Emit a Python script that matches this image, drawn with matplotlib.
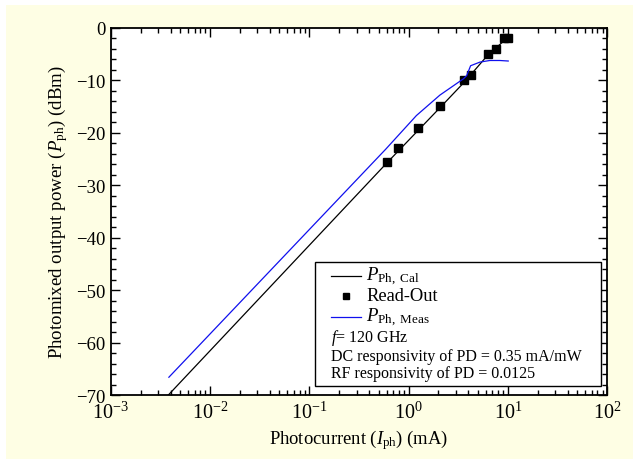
import matplotlib

matplotlib.use("Agg")
import matplotlib.pyplot as plt
from matplotlib.patches import Rectangle
from matplotlib.lines import Line2D
from matplotlib.ticker import LogLocator, MultipleLocator

plt.rcParams["font.family"] = ["Liberation Serif", "DejaVu Serif"]
plt.rcParams["mathtext.fontset"] = "custom"
plt.rcParams["mathtext.rm"] = "Liberation Serif"
plt.rcParams["mathtext.it"] = "Liberation Serif:italic"

# calculated output power (black line)
cal_current = [0.0038, 0.6, 2.05, 3.7, 6.2, 10.0]
cal_power = [-70.0, -25.8, -15.3, -10.2, -5.3, -1.8]

# read-out points (squares)
read_current = [0.6, 0.79, 1.25, 2.07, 3.65, 4.23, 6.27, 7.55, 9.17, 10.1]
read_power = [-25.5, -22.9, -19.0, -14.9, -9.9, -9.0, -5.0, -4.0, -2.0, -2.0]

# measured output power (blue line)
meas_current = [0.00385, 0.59, 1.2, 2.07, 3.57, 3.85, 4.22, 5.25, 6.6, 8.3, 10.1]
meas_power = [-66.6, -23.1, -16.7, -12.8, -9.7, -9.1, -7.2, -6.5, -6.2, -6.2, -6.3]

legend_notes = [
    r"$f$= 120 GHz",
    "DC responsivity of PD = 0.35 mA/mW",
    "RF responsivity of PD = 0.0125",
]

fig = plt.figure(figsize=(6.33, 4.6), dpi=100)
fig.patch.set_facecolor("white")
fig.add_artist(Rectangle((6 / 633, 0), 1, 1 - 6 / 460, transform=fig.transFigure,
                         facecolor="#fefee4", edgecolor="none", zorder=-1))
ax = fig.add_axes([0.175, 0.139, 0.784, 0.798])

ax.plot(cal_current, cal_power, color="black", lw=0.9)
ax.plot(read_current, read_power, ls="none", marker="s", ms=5.5, color="black")
ax.plot(meas_current, meas_power, color="#1010ee", lw=0.9)

ax.set_xscale("log")
ax.set_xlim(1e-3, 1e2)
ax.set_ylim(-70, 0)
ax.yaxis.set_major_locator(MultipleLocator(10))
ax.yaxis.set_minor_locator(MultipleLocator(2))
ax.xaxis.set_major_locator(LogLocator(base=10, numticks=10))
ax.xaxis.set_minor_locator(LogLocator(base=10, subs=range(2, 10), numticks=20))
ax.tick_params(which="both", direction="in", top=True, right=True, width=1)
ax.tick_params(which="major", length=6.5)
ax.tick_params(which="minor", length=3.5)
ax.tick_params(axis="x", labelsize=14.5, pad=5)
ax.tick_params(axis="y", labelsize=13.5, pad=4)
for s in ax.spines.values():
    s.set_linewidth(1.3)

ax.set_xlabel(r"Photocurrent ($I_{\mathrm{ph}}$) (mA)", fontsize=13.4, labelpad=3)
ax.set_ylabel(r"Photomixed output power ($P_{\mathrm{ph}}$) (dBm)", fontsize=13.6, labelpad=4)

# legend box drawn by hand so the note lines sit inside it
ax.add_patch(Rectangle((0.411, 0.025), 0.577, 0.337, transform=ax.transAxes,
                       facecolor="white", edgecolor="black", lw=1.0, zorder=5))
ax.add_line(Line2D([0.444, 0.504], [0.325, 0.325], transform=ax.transAxes,
                   color="black", lw=0.9, zorder=6))
ax.add_line(Line2D([0.474], [0.271], transform=ax.transAxes, ls="none",
                   marker="s", ms=4, color="black", zorder=6))
ax.add_line(Line2D([0.444, 0.504], [0.2125, 0.2125], transform=ax.transAxes,
                   color="#1010ee", lw=0.9, zorder=6))
ax.text(0.515, 0.325, r"$P_{\mathrm{Ph,\ Cal}}$", transform=ax.transAxes,
        fontsize=13.5, va="center", zorder=7)
ax.text(0.515, 0.271, "Read-Out", transform=ax.transAxes, fontsize=13.3,
        va="center", zorder=7)
ax.text(0.515, 0.2125, r"$P_{\mathrm{Ph,\ Meas}}$", transform=ax.transAxes,
        fontsize=13.5, va="center", zorder=7)
for y, note in zip([0.158, 0.107, 0.060], legend_notes):
    ax.text(0.444, y, note, transform=ax.transAxes, fontsize=11.5,
            va="center", zorder=7)

fig.savefig("out.png", dpi=100, facecolor=fig.get_facecolor())
plt.close(fig)
